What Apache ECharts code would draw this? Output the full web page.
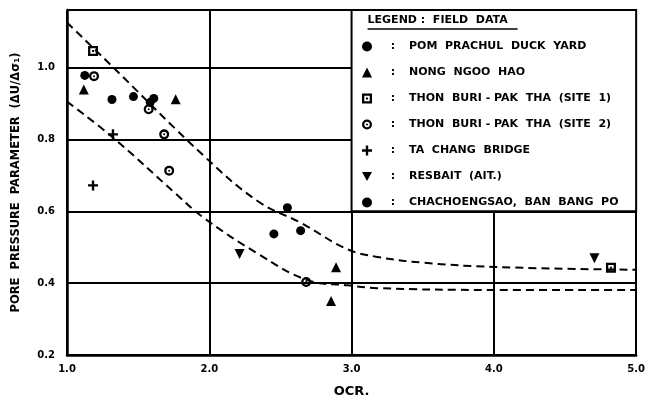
<!DOCTYPE html>
<html>
<head>
<meta charset="utf-8">
<script src="https://cdn.jsdelivr.net/npm/echarts@6/dist/echarts.min.js"></script>
<style>html,body{margin:0;padding:0;background:#fff;overflow:hidden}#c{width:648px;height:403px}</style>
</head>
<body>
<div id="c"></div>
<script>
// ---- data ----
const xTicks = [1, 2, 3, 4, 5];
const yTicks = [0.2, 0.4, 0.6, 0.8, 1.0];
const seriesNames = [
  'POM  PRACHUL  DUCK  YARD',
  'NONG  NGOO  HAO',
  'THON  BURI - PAK  THA  (SITE  1)',
  'THON  BURI - PAK  THA  (SITE  2)',
  'TA  CHANG  BRIDGE',
  'RESBAIT  (AIT.)',
  'CHACHOENGSAO,  BAN  BANG  PO'
];
const pomPrachul = [[1.125, 0.978], [1.316, 0.911], [1.467, 0.919], [1.585, 0.903], [1.61, 0.914]];
const nongNgooHao = [[1.118, 0.939], [1.764, 0.912], [2.891, 0.444], [2.856, 0.350]];
const thonBuriSite1 = [[1.183, 1.046], [4.823, 0.443]];
const thonBuriSite2 = [[1.19, 0.976], [1.574, 0.884], [1.683, 0.814], [1.718, 0.713], [2.681, 0.403]];
const taChangBridge = [[1.323, 0.814], [1.183, 0.672]];
const resbait = [[2.213, 0.481], [4.707, 0.469]];
const chachoengsao = [[2.454, 0.537], [2.549, 0.610], [2.642, 0.546]];
const upperCurve = [[1.0, 1.125], [1.277, 1.019], [1.973, 0.750], [2.345, 0.627], [2.647, 0.567], [2.972, 0.494], [3.18, 0.473], [3.5, 0.457], [4.0, 0.445], [5.0, 0.437]];
const lowerCurve = [[1.0, 0.905], [1.323, 0.805], [1.764, 0.649], [1.95, 0.585], [2.345, 0.481], [2.693, 0.408], [2.972, 0.394], [3.18, 0.386], [4.0, 0.381], [5.0, 0.381]];
const legendTitle = 'LEGEND :  FIELD  DATA';
const xName = 'OCR.';
const yName = 'PORE  PRESSURE  PARAMETER  (ΔU/Δσ₁)';

// ---- symbols ----
const SYM_SQUARE_DOT = 'path://M0,0L10,0L10,10L0,10Z M2.3,2.3L2.3,7.7L7.7,7.7L7.7,2.3Z M4,4L6,4L6,6L4,6Z';
const SYM_CIRCLE_DOT = 'path://M0,5A5,5 0 1,1 10,5A5,5 0 1,1 0,5Z M2.3,5A2.7,2.7 0 1,0 7.7,5A2.7,2.7 0 1,0 2.3,5Z M4,5A1,1 0 1,1 6,5A1,1 0 1,1 4,5Z';
const SYM_CROSS = 'path://M3.8,0H6.2V3.8H10V6.2H6.2V10H3.8V6.2H0V3.8H3.8Z';
const SYM_INV_TRI = 'path://M0,0H10L5,9Z';
const symbols = ['circle', 'triangle', SYM_SQUARE_DOT, SYM_CIRCLE_DOT, SYM_CROSS, SYM_INV_TRI, 'circle'];
const sizes = [9, 10, 10, 10, 10, 10, 9];
const datasets = [pomPrachul, nongNgooHao, thonBuriSite1, thonBuriSite2, taChangBridge, resbait, chachoengsao];

const FONT = 'DejaVu Sans';
const chart = echarts.init(document.getElementById('c'), null, {renderer: 'canvas'});

const scatterSeries = seriesNames.map((n, i) => ({
  name: n, type: 'scatter', data: datasets[i], symbol: symbols[i], symbolSize: sizes[i],
  itemStyle: {color: '#000', opacity: 1}, z: 6
}));
const curveSeries = [upperCurve, lowerCurve].map(d => ({
  type: 'line', data: d, smooth: 0.4, symbol: 'none', silent: true, z: 5,
  lineStyle: {color: '#000', width: 2, type: [8, 5]}
}));

chart.setOption({
  animation: false,
  backgroundColor: '#fff',
  grid: {left: 67, right: 6, top: 10, bottom: 42, containLabel: false},
  xAxis: {
    type: 'value', min: 1, max: 5, interval: 1,
    name: xName, nameLocation: 'middle', nameGap: 30,
    nameTextStyle: {fontFamily: FONT, fontWeight: 'bold', fontSize: 13, color: '#000'},
    axisLine: {show: true, lineStyle: {color: '#000', width: 2.5}},
    axisTick: {show: false},
    axisLabel: {fontFamily: FONT, fontWeight: 'bold', fontSize: 10, color: '#000', margin: 9,
      formatter: v => v.toFixed(1)},
    splitLine: {show: true, lineStyle: {color: '#000', width: 2}}
  },
  yAxis: {
    type: 'value', min: 0.2, max: 1.16, interval: 0.2,
    name: yName, nameLocation: 'middle', nameGap: 45, nameRotate: 90,
    nameTextStyle: {fontFamily: FONT, fontWeight: 'bold', fontSize: 11.5, color: '#000'},
    axisLine: {show: true, lineStyle: {color: '#000', width: 2.5}},
    axisTick: {show: false},
    axisLabel: {fontFamily: FONT, fontWeight: 'bold', fontSize: 10, color: '#000', margin: 12,
      showMaxLabel: false, formatter: v => (Math.abs(v - 1.16) < 1e-6 ? '' : v.toFixed(1))},
    splitLine: {show: true, lineStyle: {color: '#000', width: 2}}
  },
  legend: {
    orient: 'vertical', left: 357, top: 36, itemGap: 15, itemWidth: 10, itemHeight: 10,
    selectedMode: false, z: 6,
    data: seriesNames.map((n, i) => ({name: n, icon: symbols[i]})),
    formatter: n => '{c|:}' + n,
    textStyle: {fontFamily: FONT, fontWeight: 'bold', fontSize: 11, color: '#000',
      rich: {c: {width: 32, align: 'center', fontFamily: FONT, fontWeight: 'bold', fontSize: 11, color: '#000'}}}
  },
  series: scatterSeries.concat(curveSeries)
});

// legend frame, aligned to the grid cell x 3.0..5.0, y 0.6..top
const x3 = chart.convertToPixel({xAxisIndex: 0}, 3);
const x5 = chart.convertToPixel({xAxisIndex: 0}, 5);
const y06 = chart.convertToPixel({yAxisIndex: 0}, 0.6);
const yTop = chart.convertToPixel({yAxisIndex: 0}, 1.16);
chart.setOption({
  graphic: [
    {type: 'rect', z: 4, shape: {x: x3, y: yTop, width: x5 - x3, height: y06 - yTop},
      style: {fill: '#fff', stroke: '#000', lineWidth: 2}},
    {type: 'text', z: 7, left: x3 + 16, top: yTop + 5,
      style: {text: legendTitle, font: 'bold 11px "DejaVu Sans"', fill: '#000'}},
    {type: 'line', z: 7, shape: {x1: x3 + 16, y1: yTop + 19, x2: x3 + 166, y2: yTop + 19},
      style: {stroke: '#000', lineWidth: 1.5}}
  ]
});
</script>
</body>
</html>
